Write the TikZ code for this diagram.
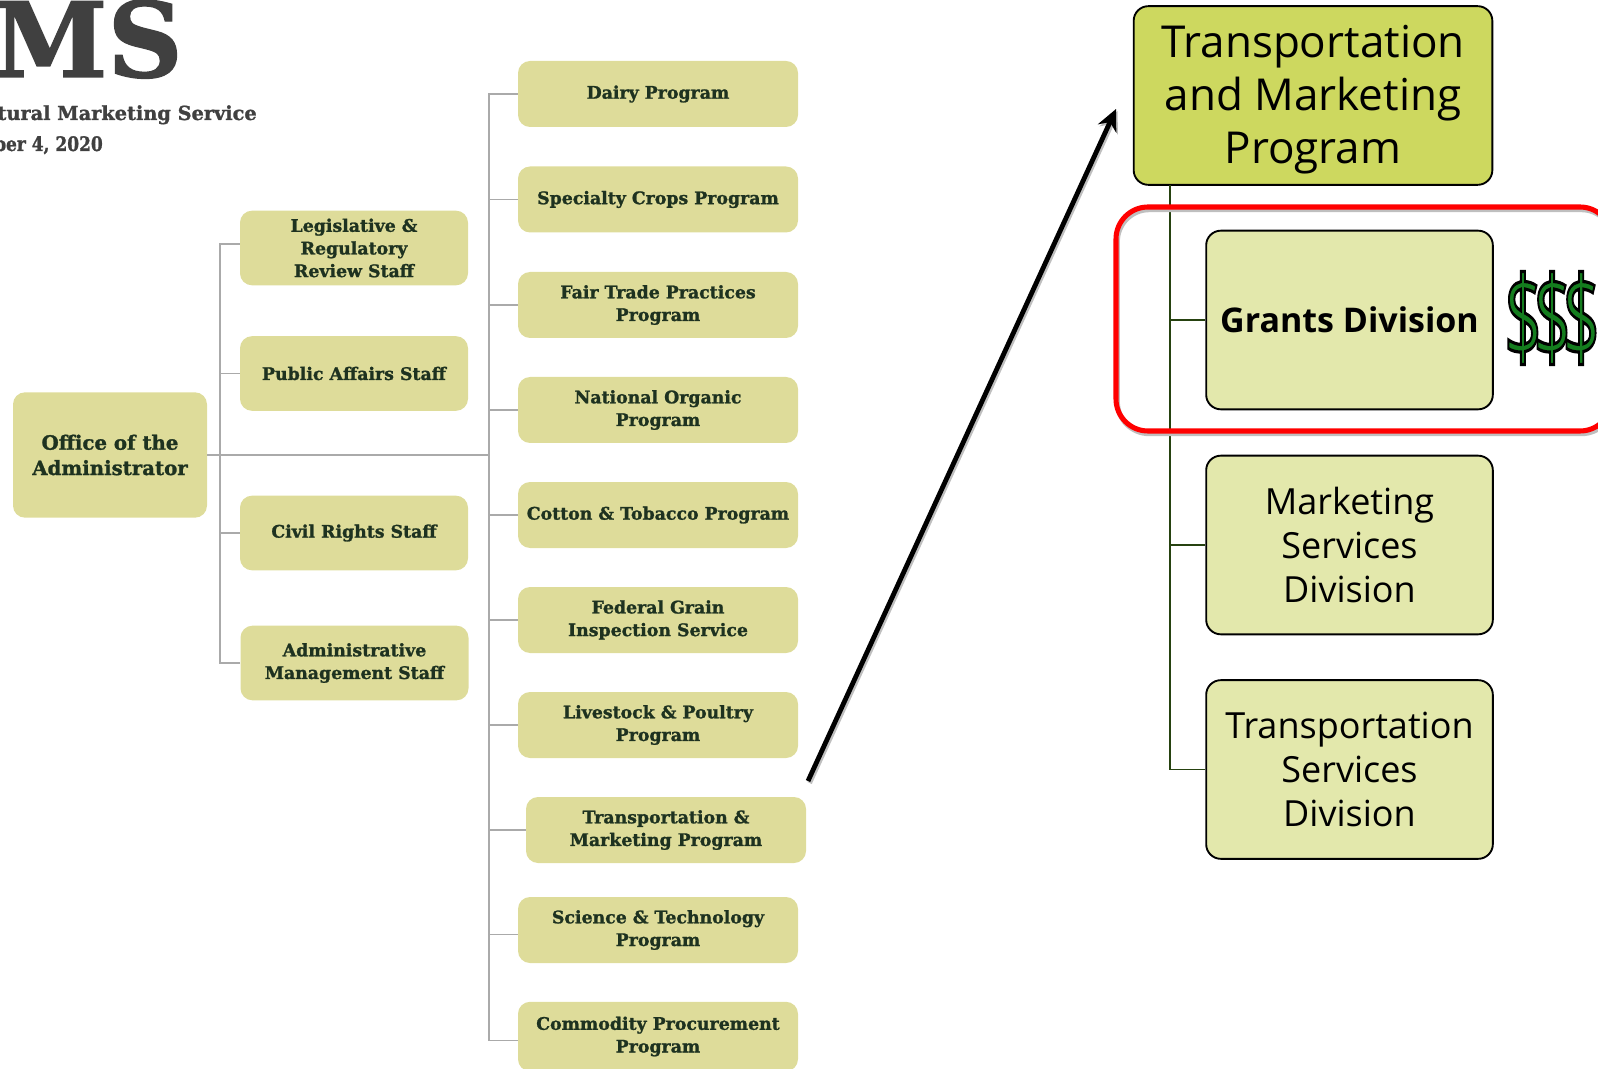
\documentclass[tikz,border=0pt]{standalone}
\usepackage{fontspec}
\setmainfont{DejaVu Serif}[BoldFeatures={FakeBold=1.3}]
\newfontfamily\SansFont{Open Sans}
\newfontfamily\CashFont{Open Sans}[FakeBold=2.8]
\usetikzlibrary{arrows.meta}
\definecolor{ColBox}{RGB}{222,220,154}
\definecolor{ColText}{RGB}{30,50,32}
\definecolor{ColTitle}{RGB}{64,64,64}
\definecolor{ColEdge}{RGB}{170,170,170}
\definecolor{ColTop}{RGB}{205,216,95}
\definecolor{ColSub}{RGB}{227,232,172}
\definecolor{ColDark}{RGB}{38,66,16}
\definecolor{ColRed}{RGB}{255,0,0}
\definecolor{ColCash}{RGB}{20,125,30}
\tikzstyle{NodeOrg}=[rectangle,rounded corners=9pt,fill=ColBox,text=ColText,align=center,inner sep=0pt,
font=\fontsize{13}{17}\selectfont\bfseries]
\tikzstyle{NodeProg}=[NodeOrg,minimum width=210pt,minimum height=49.5pt]
\tikzstyle{NodeStaff}=[NodeOrg,minimum width=171pt,minimum height=56pt]
\tikzstyle{NodeHead}=[anchor=base east,inner sep=0pt,text=ColTitle,font=\fontsize{14.5}{17}\selectfont\bfseries]
\tikzstyle{EdgeOrg}=[ColEdge,line width=1.1pt]
\tikzstyle{NodeSub}=[rectangle,rounded corners=11pt,draw=black,line width=1.4pt,fill=ColSub,align=center,
inner sep=0pt,minimum width=215pt,minimum height=134pt,font=\SansFont\fontsize{27}{33}\selectfont]
\tikzstyle{EdgeDark}=[ColDark,line width=1.3pt]
\tikzstyle{ArrowZoom}=[line width=3.6pt,-{Stealth[length=16pt,width=15pt]}]

\begin{document}
\begin{tikzpicture}[x=0.75pt,y=-0.75pt]
        \useasboundingbox(0,0)rectangle(1598,1069);
        \clip(0,0)rectangle(1598,1069);
        % header, cut off by the page edge
        \node[NodeHead,font=\fontsize{78}{78}\selectfont\bfseries](title)at(183,77){MS};
        \node[NodeHead](agency)at(257,120){tural Marketing Service};
        \node[NodeHead,font=\fontsize{15}{17}\selectfont\bfseries,xscale=0.85](date)at(103,151){ber 4, 2020};
        % left chart
        \coordinate(TrunkA)at(220,455);
        \coordinate(TrunkB)at(489,455);
        \node[NodeStaff,minimum width=145.5pt,minimum height=94pt,font=\fontsize{14.8}{19}\selectfont\bfseries](office)at(110,455){Office of the\\Administrator};
        \node[NodeStaff](legal)at(354,248){Legislative \&\\Regulatory\\Review Staff};
        \node[NodeStaff](public)at(354,373.5){Public Affairs Staff};
        \node[NodeStaff](civil)at(354,533){Civil Rights Staff};
        \node[NodeStaff](admin)at(354.5,663){Administrative\\Management Staff};
        \node[NodeProg](dairy)at(658,94){Dairy Program};
        \node[NodeProg](crops)at(658,199.5){Specialty Crops Program};
        \node[NodeProg](trade)at(658,305){Fair Trade Practices\\Program};
        \node[NodeProg](organic)at(658,410){National Organic\\Program};
        \node[NodeProg](cotton)at(658,515){Cotton \& Tobacco Program};
        \node[NodeProg](grain)at(658,620){Federal Grain\\Inspection Service};
        \node[NodeProg](poultry)at(658,725){Livestock \& Poultry\\Program};
        \node[NodeProg](market)at(666,830){Transportation \&\\Marketing Program};
        \node[NodeProg](science)at(658,930){Science \& Technology\\Program};
        \node[NodeProg,minimum height=52pt](commodity)at(658,1036.5){Commodity Procurement\\Program};
        \draw[EdgeOrg](office.east)--(TrunkB);
        \draw[EdgeOrg]([yshift=3pt]legal.west)-|(TrunkA);
        \draw[EdgeOrg](public.west)-|(TrunkA);
        \draw[EdgeOrg](civil.west)-|(TrunkA);
        \draw[EdgeOrg](admin.west)-|(TrunkA);
        \draw[EdgeOrg](dairy.west)-|(TrunkB);
        \draw[EdgeOrg](crops.west)-|(TrunkB);
        \draw[EdgeOrg](trade.west)-|(TrunkB);
        \draw[EdgeOrg](organic.west)-|(TrunkB);
        \draw[EdgeOrg](cotton.west)-|(TrunkB);
        \draw[EdgeOrg](grain.west)-|(TrunkB);
        \draw[EdgeOrg](poultry.west)-|(TrunkB);
        \draw[EdgeOrg](market.west)-|(TrunkB);
        \draw[EdgeOrg]([yshift=-3.5pt]science.west)-|(TrunkB);
        \draw[EdgeOrg]([yshift=-3pt]commodity.west)-|(TrunkB);
        % right chart
        \node[NodeSub,fill=ColTop,minimum width=269pt,minimum height=134pt,
        label={[align=center,yshift=-3pt,font=\SansFont\fontsize{33}{39.5}\selectfont]center:Transportation\\and Marketing\\Program}](program)at(1313,95.5){};
        \coordinate(TrunkC)at(1170,185);
        \node[NodeSub,font=\SansFont\bfseries\fontsize{25.5}{32}\selectfont](grants)at(1349.5,320){Grants Division};
        \node[NodeSub](services)at(1349.5,545){Marketing\\Services\\Division};
        \node[NodeSub](transport)at(1349.5,769.5){Transportation\\Services\\Division};
        \draw[EdgeDark](TrunkC)|-(transport.west);
        \draw[EdgeDark](TrunkC|-grants.west)--(grants.west);
        \draw[EdgeDark](TrunkC|-services.west)--(services.west);
        \node[rectangle,rounded corners=24pt,draw=ColRed,line width=3.8pt,minimum width=372pt,minimum height=168pt,
        preaction={draw=black!25,transform canvas={xshift=1pt,yshift=-2pt}}](frame)at(1364,319){};
        \node[font=\CashFont\fontsize{52}{52}\selectfont,text=ColCash,xscale=0.95,yscale=1.64,inner sep=0pt](cash)at(1552,318){\special{pdf:code 0 0 0 RG}\$\kern-6.8pt\$\kern-6.8pt\$};
        % arrow between the charts
        \coordinate(ArrowTail)at(808,781);
        \coordinate(ArrowTip)at(1116,109);
        \draw[ArrowZoom,black!25,transform canvas={xshift=1.2pt,yshift=-1.5pt}](ArrowTail)--(ArrowTip);
        \draw[ArrowZoom](ArrowTail)--(ArrowTip);
    \end{tikzpicture}
\end{document}
